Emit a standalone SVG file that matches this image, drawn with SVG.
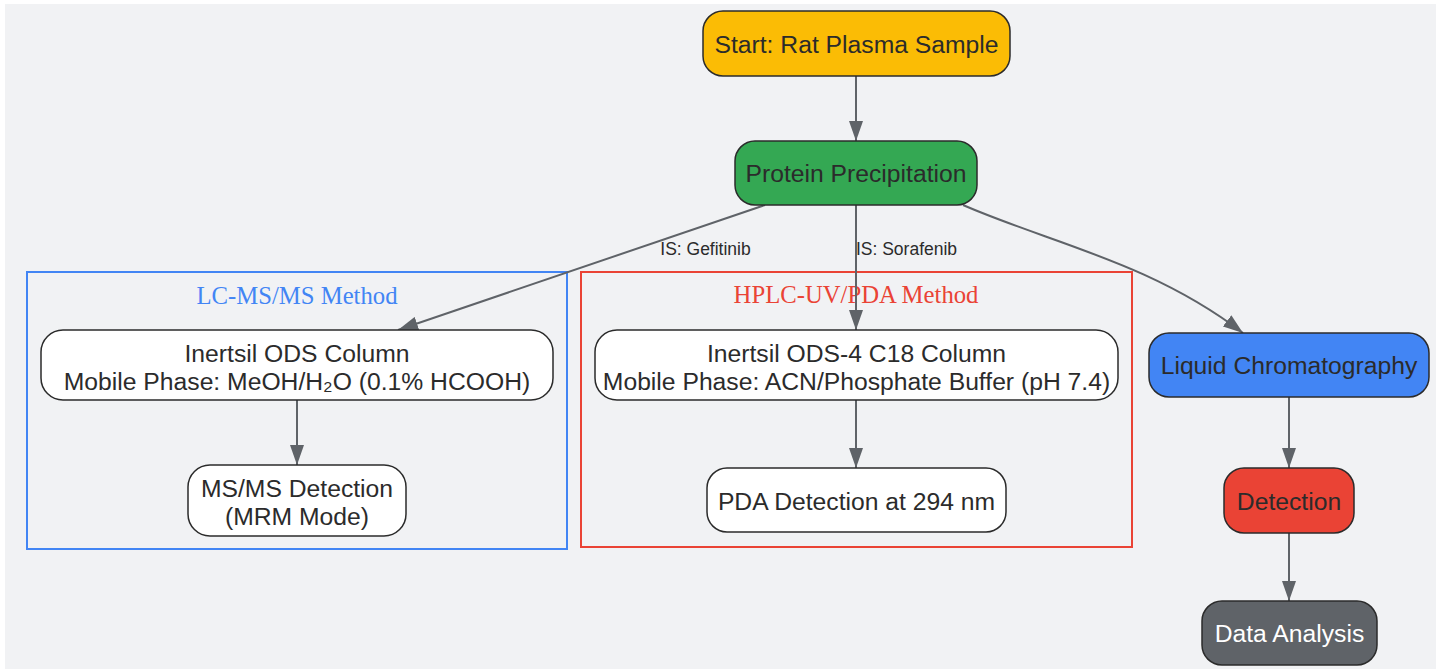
<svg xmlns="http://www.w3.org/2000/svg" width="1441" height="670" viewBox="0 0 1441 670">
<style>
.bg{fill:#f1f2f4}
.node rect{stroke:#2b2b2b;stroke-width:1.5}
.node text{font-family:"Liberation Sans",Arial,sans-serif;font-size:24.7px;fill:#2b2b2b;text-anchor:middle}
.node text.light{fill:#ffffff}
.cluster rect{fill:none;stroke-width:2}
.cluster text{font-family:"Liberation Serif","Times New Roman",serif;font-size:24.7px;text-anchor:middle}
.edge{fill:none;stroke:#5f6368;stroke-width:2;marker-end:url(#arrow)}
.elabel{font-family:"Liberation Sans",Arial,sans-serif;font-size:17.5px;fill:#2b2b2b;text-anchor:middle}
</style>
<defs>
<marker id="arrow" markerUnits="userSpaceOnUse" markerWidth="20" markerHeight="14" refX="20" refY="7" orient="auto">
<path d="M0,0 L20,7 L0,14 z" fill="#5f6368"/>
</marker>
</defs>
<rect class="bg" x="5" y="4" width="1431" height="665"/>

<g id="cluster-lcms" class="cluster">
<rect x="27" y="272" width="540" height="277" stroke="#4285f4"/>
<text x="297" y="303.5" fill="#4285f4">LC-MS/MS Method</text>
</g>
<g id="cluster-hplc" class="cluster">
<rect x="581" y="272" width="551" height="275" stroke="#ea4335"/>
<text x="856" y="303" fill="#ea4335">HPLC-UV/PDA Method</text>
</g>

<g id="connectors">
<path class="edge" d="M856,76 L856,141"/>
<path class="edge" d="M765,205 L398,330"/>
<path class="edge" d="M856,205 L856,330"/>
<path class="edge" d="M963,205 C1050,243 1150,262 1243,333"/>
<path class="edge" d="M297,400 L297,465"/>
<path class="edge" d="M856,400 L856,468"/>
<path class="edge" d="M1289,397 L1289,468"/>
<path class="edge" d="M1289,533 L1289,601"/>
<text class="elabel" x="705.5" y="254.5">IS: Gefitinib</text>
<text class="elabel" x="906.5" y="254.5">IS: Sorafenib</text>
</g>

<g id="start" class="node">
<rect x="703" y="11" width="307" height="65" rx="20" fill="#fbbc05"/>
<text x="856.5" y="53">Start: Rat Plasma Sample</text>
</g>
<g id="protein-precipitation" class="node">
<rect x="735" y="141" width="242" height="64" rx="20" fill="#34a853"/>
<text x="856" y="182">Protein Precipitation</text>
</g>
<g id="lcms-column" class="node">
<rect x="41" y="330" width="512" height="70" rx="22" fill="#ffffff"/>
<text x="297" y="361.5">Inertsil ODS Column</text>
<text x="297" y="389.5">Mobile Phase: MeOH/H₂O (0.1% HCOOH)</text>
</g>
<g id="msms-detection" class="node">
<rect x="188" y="465" width="218" height="71" rx="22" fill="#ffffff"/>
<text x="297" y="496.5">MS/MS Detection</text>
<text x="297" y="524.5">(MRM Mode)</text>
</g>
<g id="hplc-column" class="node">
<rect x="595" y="330" width="523" height="70" rx="22" fill="#ffffff"/>
<text x="856.5" y="361.5">Inertsil ODS-4 C18 Column</text>
<text x="856.5" y="389.5">Mobile Phase: ACN/Phosphate Buffer (pH 7.4)</text>
</g>
<g id="pda-detection" class="node">
<rect x="707" y="468" width="299" height="64" rx="20" fill="#ffffff"/>
<text x="856.5" y="509.5">PDA Detection at 294 nm</text>
</g>
<g id="liquid-chromatography" class="node">
<rect x="1149" y="333" width="280" height="64" rx="20" fill="#4285f4"/>
<text x="1289" y="374">Liquid Chromatography</text>
</g>
<g id="detection" class="node">
<rect x="1224" y="468" width="130" height="65" rx="20" fill="#ea4335"/>
<text x="1289" y="509.5">Detection</text>
</g>
<g id="data-analysis" class="node">
<rect x="1202" y="601" width="175" height="64" rx="20" fill="#5f6368"/>
<text class="light" x="1289.5" y="642">Data Analysis</text>
</g>
</svg>
